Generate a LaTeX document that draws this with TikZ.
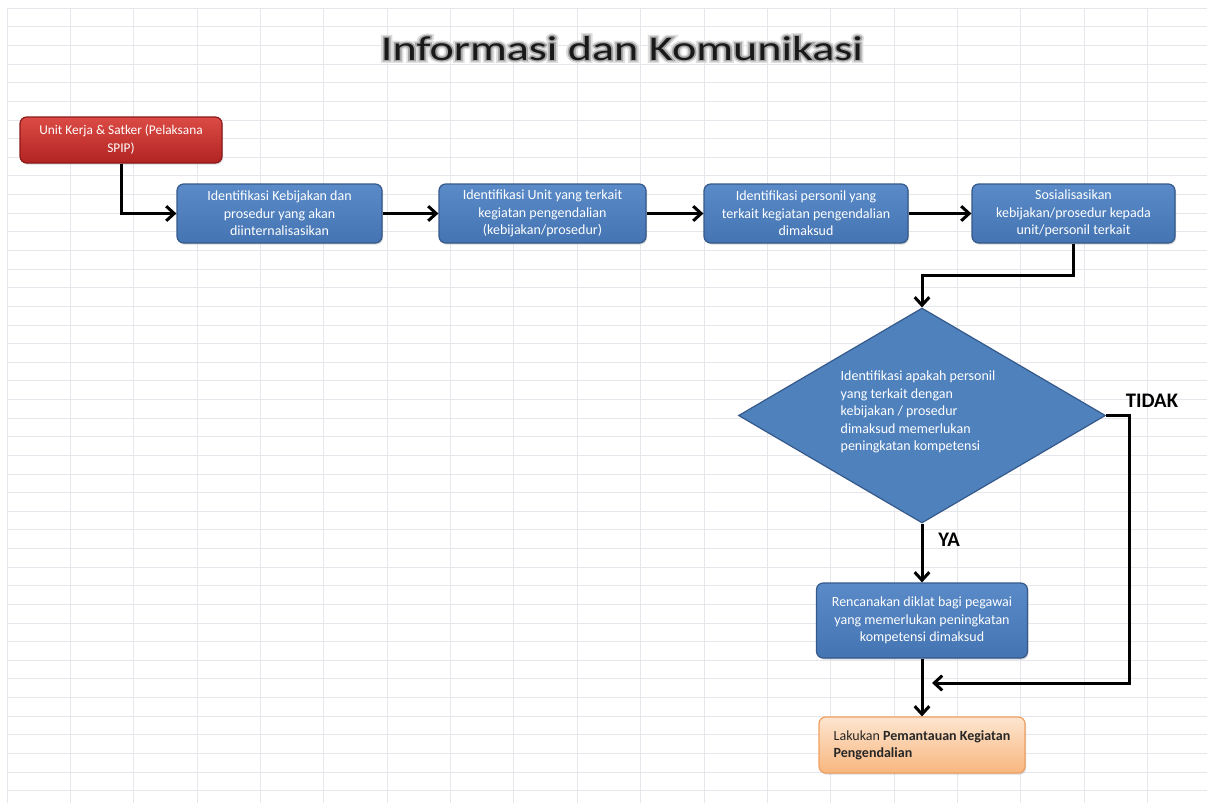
\documentclass[tikz,border=0pt]{standalone}
\usepackage{fontspec}
\setmainfont{Carlito}
\newfontfamily\glowhalo[FakeBold=16]{Carlito}
\newfontfamily\glowring[FakeBold=8]{Carlito}
\usetikzlibrary{arrows.meta,shapes.geometric,shadows}
\definecolor{gridc}{HTML}{E5E7ED}
\definecolor{bluetop}{HTML}{5A8BC8}
\definecolor{bluebot}{HTML}{4474B2}
\definecolor{blueedge}{HTML}{35598A}
\definecolor{redtop}{HTML}{DC4B45}
\definecolor{redbot}{HTML}{B12422}
\definecolor{rededge}{HTML}{8C1A1A}
\definecolor{orgtop}{HTML}{FDE5CF}
\definecolor{orgbot}{HTML}{F8B67F}
\definecolor{orgedge}{HTML}{F0A060}
\definecolor{diafill}{HTML}{4F81BD}
\newcommand{\titletext}{\scalebox{1.33}[1]{Informasi dan Komunikasi}}
\begin{document}
\begin{tikzpicture}[x=0.75pt,y=-0.75pt,
  gridline/.style={draw=gridc,line width=0.75pt},
  boxbase/.style={rectangle,rounded corners=5pt,line width=0.9pt,inner sep=0pt,align=center,
    font=\fontsize{10.5}{13.1}\selectfont,
    drop shadow={opacity=0.3,shadow xshift=0.8pt,shadow yshift=-1.2pt}},
  bluebox/.style={boxbase,draw=blueedge,top color=bluetop,bottom color=bluebot,text=white},
  redbox/.style={boxbase,draw=rededge,top color=redtop,bottom color=redbot,text=white,
    font=\fontsize{10}{13.5}\selectfont},
  orgbox/.style={boxbase,draw=orgedge,top color=orgtop,bottom color=orgbot,text=black!85,align=left},
  decision/.style={diamond,shape aspect=1.707,draw=blueedge,fill=diafill,line width=0.9pt,inner sep=0pt,
    minimum width=275.25pt,minimum height=161.25pt,text=white,align=left,
    font=\fontsize{10.5}{13.1}\selectfont},
  conn/.style={draw=black,line width=2.25pt,-{Straight Barb[length=6pt,width=11pt]}},
  lbl/.style={font=\fontsize{15.5}{18}\selectfont\bfseries,text=black},
  titlefont/.style={font=\fontsize{26}{30}\selectfont,anchor=base,inner sep=0pt}]
\useasboundingbox (0,0) rectangle (1207,803);
\fill[white] (0,0) rectangle (1207,803);
% grid
\foreach \k in {0,...,18} \draw[gridline] ({7+63.37*\k},8) -- ({7+63.37*\k},803);
\foreach \k in {0,...,42} \draw[gridline] (7,{8.3+18.63*\k}) -- (1207,{8.3+18.63*\k});
% title with glow
\node[titlefont,text=gray!25] (halo) at (622,60) {\glowhalo\titletext};
\node[titlefont,text=gray!70] (ring) at (622,60) {\glowring\titletext};
\node[titlefont,text=black!90] (title) at (622,60) {\titletext};
% nodes
\node[redbox,minimum width=151.5pt,minimum height=34.5pt] (red) at (121,140) {Unit Kerja \& Satker (Pelaksana\\SPIP)};
\node[bluebox,minimum width=153.75pt,minimum height=44.25pt] (b1) at (279.5,213.5) {Identifikasi Kebijakan dan\\prosedur yang akan\\diinternalisasikan};
\node[bluebox,minimum width=155.25pt,minimum height=44.25pt] (b2) at (542.5,213.5) {Identifikasi Unit yang terkait\\kegiatan pengendalian\\(kebijakan/prosedur)};
\node[bluebox,minimum width=153pt,minimum height=44.25pt] (b3) at (806,213.5) {Identifikasi personil yang\\terkait kegiatan pengendalian\\dimaksud};
\node[bluebox,minimum width=152.25pt,minimum height=44.25pt] (b4) at (1073.5,213.5) {Sosialisasikan\\kebijakan/prosedur kepada\\unit/personil terkait};
\node[decision] (dia) at (922,415.5) {\hspace*{-6pt}\begin{tabular}{@{}l@{}}Identifikasi apakah personil\\yang terkait dengan\\kebijakan / prosedur\\dimaksud memerlukan\\peningkatan kompetensi\end{tabular}\\[4pt]};
\node[bluebox,minimum width=158.25pt,minimum height=56.25pt] (ren) at (922,620.5) {Rencanakan diklat bagi pegawai\\yang memerlukan peningkatan\\kompetensi dimaksud};
\node[orgbox,minimum width=154.5pt,minimum height=42pt] (lak) at (922,745) {Lakukan \textbf{Pemantauan Kegiatan}\\\textbf{Pengendalian}};
\node[lbl] (tidak) at (1152,401) {TIDAK};
\node[lbl] (ya) at (949,540) {YA};
\coordinate (tend) at (932,683);
% connectors
\draw[conn] (red.south) |- (b1.west);
\draw[conn] (b1.east) -- (b2.west);
\draw[conn] (b2.east) -- (b3.west);
\draw[conn] (b3.east) -- (b4.west);
\draw[conn] (b4.south) -- ++(0,32) -| (dia.north);
\draw[conn] (dia.south) -- (ren.north);
\draw[conn] (ren.south) -- (lak.north);
\draw[conn] (dia.east) -- ++(23,0) |- (tend);
\end{tikzpicture}
\end{document}
